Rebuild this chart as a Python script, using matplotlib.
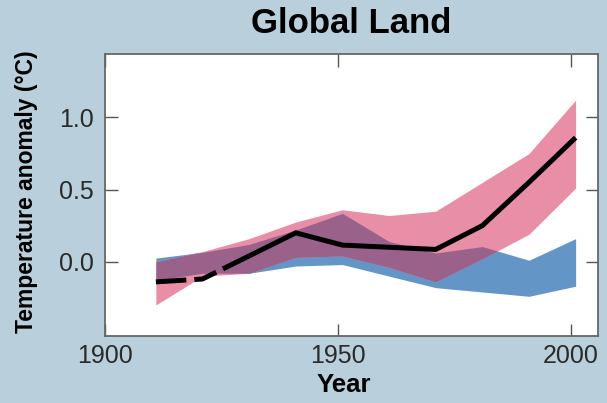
import numpy as np
import matplotlib
matplotlib.use("Agg")
import matplotlib.pyplot as plt

plt.rcParams["font.family"] = ["Liberation Sans", "DejaVu Sans"]

# decade means
years = [1911, 1921, 1931, 1941, 1951, 1961, 1971, 1981, 1991, 2001]
observed = [-0.14, -0.12, 0.04, 0.20, 0.115, 0.10, 0.085, 0.25, 0.55, 0.86]

# natural forcings only (blue band)
natural_lo = [-0.13, -0.08, -0.08, -0.03, -0.02, -0.10, -0.18, -0.21, -0.24, -0.17]
natural_hi = [0.025, 0.065, 0.12, 0.22, 0.335, 0.14, 0.06, 0.105, 0.01, 0.16]

# natural + anthropogenic forcings (pink band)
all_lo = [-0.30, -0.10, -0.08, 0.03, 0.04, -0.04, -0.14, 0.02, 0.19, 0.51]
all_hi = [0.0, 0.07, 0.16, 0.275, 0.36, 0.32, 0.35, 0.55, 0.75, 1.12]

x_ticks = [1900, 1950, 2000]
y_ticks = [0.0, 0.5, 1.0]

BG = "#b9d0dc"
BLUE = "#6396c6"
PINK = "#e88ea7"
OVERLAP = "#9a628a"

fig = plt.figure(figsize=(6.07, 4.03), dpi=100, facecolor=BG)
ax = fig.add_axes([0.1723, 0.1663, 0.8129, 0.6998])
ax.set_facecolor("white")

ax.fill_between(years, natural_lo, natural_hi, color=BLUE, lw=0)
ax.fill_between(years, all_lo, all_hi, color=PINK, lw=0)

# where both bands cover the same ground
xx = np.linspace(years[0], years[-1], 2000)
lo = np.maximum(np.interp(xx, years, natural_lo), np.interp(xx, years, all_lo))
hi = np.minimum(np.interp(xx, years, natural_hi), np.interp(xx, years, all_hi))
ax.fill_between(xx, lo, hi, where=hi > lo, color=OVERLAP, lw=0)

# early part of the record is dashed
ax.plot(years[:3], observed[:3], color="black", lw=3.6,
        dashes=[6.1, 1.6, 4.7, 1.5, 30, 1.5], solid_joinstyle="miter")
ax.plot(years[2:], observed[2:], color="black", lw=3.6,
        solid_joinstyle="miter", solid_capstyle="butt")

ax.set_xlim(1900, 2005.8)
ax.set_ylim(-0.515, 1.44)
ax.set_xticks(x_ticks)
ax.set_yticks(y_ticks)
ax.set_yticklabels([f"{v:.1f}" for v in y_ticks])

ax.tick_params(direction="in", top=True, right=True, length=9, width=1.0,
               color="#555555", labelsize=18, labelcolor="#2a2a2a", pad=6)
ax.tick_params(axis="y", pad=8)
for s in ax.spines.values():
    s.set_color("#666666")
    s.set_linewidth(1.3)

ax.set_title("Global Land", fontsize=25, fontweight="bold", pad=15)
ax.set_xlabel("Year", fontsize=18.5, fontweight="bold")
ax.set_ylabel("Temperature anomaly (°C)", fontsize=16.5, fontweight="bold")
ax.xaxis.set_label_coords(0.485, -0.13)
ax.yaxis.set_label_coords(-0.135, 0.51)

fig.savefig("out.png", dpi=100, facecolor=BG)
